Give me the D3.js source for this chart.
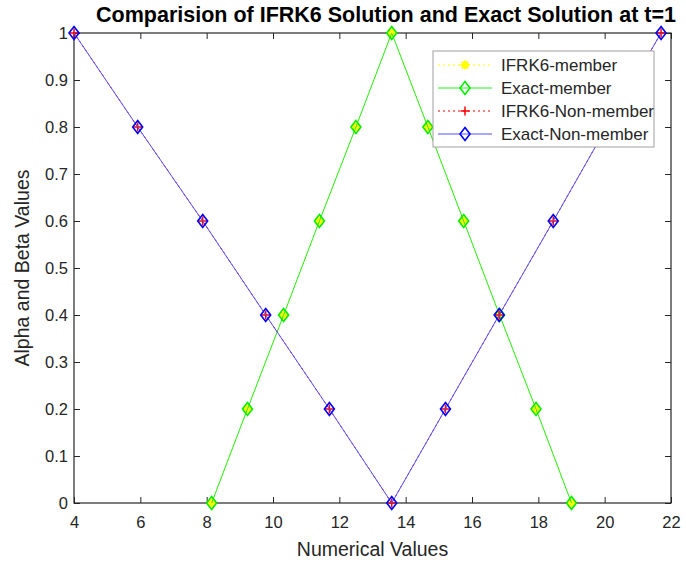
<!DOCTYPE html>
<html>
<head>
<meta charset="utf-8">
<script src="https://cdn.jsdelivr.net/npm/d3@7"></script>
<style>
  body { margin: 0; background: #fff; }
  text { font-family: "Liberation Sans", Arial, sans-serif; }
</style>
</head>
<body>
<div id="chartDiv"></div>
<script>
// alpha / beta levels
const memberLevels = [0, 0.2, 0.4, 0.6, 0.8, 1, 0.8, 0.6, 0.4, 0.2, 0];
const nonMemberLevels = [1, 0.8, 0.6, 0.4, 0.2, 0, 0.2, 0.4, 0.6, 0.8, 1];
// numerical values
const memberX = [8.15, 9.23, 10.32, 11.4, 12.5, 13.58, 14.67, 15.75, 16.83, 17.93, 19.0];
const nonMemberX = [4, 5.92, 7.88, 9.78, 11.7, 13.58, 15.2, 16.82, 18.45, 20.06, 21.7];
const xTicks = [4, 6, 8, 10, 12, 14, 16, 18, 20, 22];
const yTicks = [0, 0.1, 0.2, 0.3, 0.4, 0.5, 0.6, 0.7, 0.8, 0.9, 1];
const legendNames = ["IFRK6-member", "Exact-member", "IFRK6-Non-member", "Exact-Non-member"];

const width = 686, height = 563;
const margin = {top: 33, right: 15, bottom: 60, left: 74};
const axisColor = "#262626";

let svg = d3.select("#chartDiv").append("svg")
    .attr("width", width)
    .attr("height", height);

let x = d3.scaleLinear()
    .domain([4, 22])
    .range([margin.left, width - margin.right]);

let y = d3.scaleLinear()
    .domain([0, 1])
    .range([height - margin.bottom, margin.top]);

// series
const series = [
    {name: legendNames[0], xs: memberX, ys: memberLevels, color: "#ffff00", dash: "2,3", marker: "star"},
    {name: legendNames[1], xs: memberX, ys: memberLevels, color: "#22ee22", dash: null, marker: "diamond"},
    {name: legendNames[2], xs: nonMemberX, ys: nonMemberLevels, color: "#ff0000", dash: "2,3", marker: "plus"},
    {name: legendNames[3], xs: nonMemberX, ys: nonMemberLevels, color: "#5050ff", dash: null, marker: "diamond"}
];

function drawMarker(g, type, cx, cy, color) {
    if (type === "diamond") {
        g.append("path")
            .attr("d", `M${cx},${cy - 6.5}L${cx + 5},${cy}L${cx},${cy + 6.5}L${cx - 5},${cy}Z`)
            .attr("fill", "none")
            .attr("stroke", color === "#5050ff" ? "#0000ff" : "#00ee00")
            .attr("stroke-width", 1.6);
    } else if (type === "plus") {
        g.append("path")
            .attr("d", `M${cx - 4.5},${cy}H${cx + 4.5}M${cx},${cy - 4.5}V${cy + 4.5}`)
            .attr("stroke", color)
            .attr("stroke-width", 1.5);
    } else if (type === "star") {
        const r = 4.5, d = r * 0.707;
        g.append("path")
            .attr("d", `M${cx - r},${cy}H${cx + r}M${cx},${cy - r}V${cy + r}` +
                `M${cx - d},${cy - d}L${cx + d},${cy + d}M${cx - d},${cy + d}L${cx + d},${cy - d}`)
            .attr("stroke", color)
            .attr("stroke-width", 2.2);
    }
}

let line = d3.line().x(d => x(d[0])).y(d => y(d[1]));

// axes (box with inward ticks)
const tickLen = 6;
const fmtY = d => d === 0 || d === 1 ? d3.format("d")(d) : d3.format(".1f")(d);
svg.append("g")
    .attr("transform", `translate(0,${y(0)})`)
    .call(d3.axisBottom(x).tickValues(xTicks).tickSize(-tickLen).tickPadding(13).tickFormat(d3.format("d")))
    .call(g => g.select(".domain").remove());
svg.append("g")
    .attr("transform", `translate(0,${y(1)})`)
    .call(d3.axisTop(x).tickValues(xTicks).tickSize(-tickLen).tickFormat(""))
    .call(g => g.select(".domain").remove());
svg.append("g")
    .attr("transform", `translate(${x(4)},0)`)
    .call(d3.axisLeft(y).tickValues(yTicks).tickSize(-tickLen).tickPadding(6).tickFormat(fmtY))
    .call(g => g.select(".domain").remove());
svg.append("g")
    .attr("transform", `translate(${x(22)},0)`)
    .call(d3.axisRight(y).tickValues(yTicks).tickSize(-tickLen).tickFormat(""))
    .call(g => g.select(".domain").remove());

svg.selectAll(".tick line").attr("stroke", axisColor);
svg.selectAll(".tick text")
    .attr("fill", axisColor)
    .style("font-size", "16.5px")
    .style("font-family", "'Liberation Sans', Arial, sans-serif");

svg.append("rect")
    .attr("x", x(4))
    .attr("y", y(1))
    .attr("width", x(22) - x(4))
    .attr("height", y(0) - y(1))
    .attr("fill", "none")
    .attr("stroke", axisColor)
    .attr("stroke-width", 1.2);

let plotArea = svg.append("g");
series.forEach(s => {
    const pts = s.xs.map((v, i) => [v, s.ys[i]]);
    plotArea.append("path")
        .datum(pts)
        .attr("d", line)
        .attr("fill", "none")
        .attr("stroke", s.color)
        .attr("stroke-width", 1)
        .attr("stroke-dasharray", s.dash);
    pts.forEach(p => drawMarker(plotArea, s.marker, x(p[0]), y(p[1]), s.color));
});

// titles
svg.append("text")
    .attr("x", 386)
    .attr("y", 22)
    .attr("text-anchor", "middle")
    .style("font-size", "21.5px")
    .style("font-weight", "bold")
    .text("Comparision of IFRK6 Solution and Exact Solution at t=1");

svg.append("text")
    .attr("x", (x(4) + x(22)) / 2)
    .attr("y", 556)
    .attr("text-anchor", "middle")
    .attr("fill", axisColor)
    .style("font-size", "19.5px")
    .text("Numerical Values");

svg.append("text")
    .attr("transform", `translate(29,${(y(0) + y(1)) / 2}) rotate(-90)`)
    .attr("text-anchor", "middle")
    .attr("fill", axisColor)
    .style("font-size", "19.5px")
    .text("Alpha and Beta Values");

// legend
let legend = svg.append("g").attr("transform", "translate(433,51)");
legend.append("rect")
    .attr("width", 221)
    .attr("height", 96)
    .attr("fill", "#fff")
    .attr("stroke", "#a0a0a0")
    .attr("stroke-width", 1);

series.forEach((s, i) => {
    const ly = 14 + i * 23;
    legend.append("line")
        .attr("x1", 5).attr("x2", 59)
        .attr("y1", ly).attr("y2", ly)
        .attr("stroke", s.color)
        .attr("stroke-width", 1)
        .attr("stroke-dasharray", s.dash);
    drawMarker(legend, s.marker, 32, ly, s.color);
    legend.append("text")
        .attr("x", 68)
        .attr("y", ly + 6)
        .attr("fill", axisColor)
        .style("font-size", "17px")
        .text(s.name);
});
</script>
</body>
</html>
